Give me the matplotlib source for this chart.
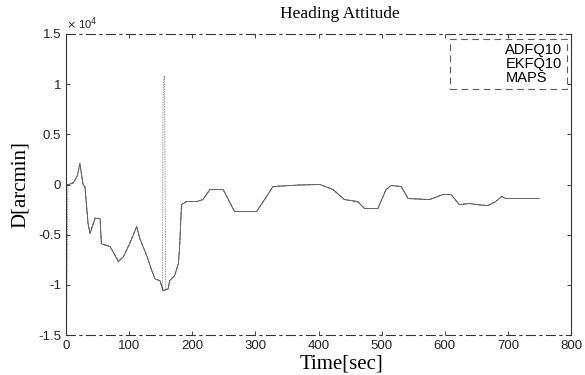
import matplotlib
matplotlib.use("Agg")
import matplotlib.pyplot as plt

# time [sec]
t = [0, 5, 12, 18, 22, 27, 30, 35, 38, 46, 54, 56, 70, 83, 91, 101, 112, 117, 128,
     136, 141, 149, 154, 162, 164, 172, 178, 180, 183, 191, 207, 217, 228, 249, 267,
     302, 328, 370, 402, 423, 441, 462, 473, 494, 507, 515, 531, 542, 576, 597, 610,
     623, 639, 650, 668, 681, 690, 697, 750]

# heading error [arcmin]
adfq = [0, 0, 200, 900, 2100, 0, -200, -3900, -4900, -3400, -3400, -5900, -6200,
        -7700, -7200, -5900, -4200, -5400, -7100, -8600, -9400, -9600, -10600, -10400,
        -9600, -9100, -7900, -6200, -2000, -1700, -1700, -1500, -500, -500, -2700,
        -2700, -200, -50, 0, -500, -1500, -1700, -2400, -2400, -500, -100, -200, -1400,
        -1500, -1000, -1000, -2000, -1900, -2000, -2100, -1700, -1200, -1400, -1400]
ekfq = [0, 0, 150, 850, 2000, 0, -250, -4000, -4800, -3300, -3400, -5900, -6200,
        -7600, -7200, -5800, -4200, -5400, -7100, -8600, -9400, -9600, -10500, -10400,
        -9600, -9100, -7900, -6200, -2000, -1700, -1700, -1500, -500, -500, -2700,
        -2700, -200, -50, 0, -500, -1500, -1700, -2400, -2400, -500, -100, -200, -1400,
        -1500, -1000, -1000, -2000, -1900, -2000, -2100, -1700, -1200, -1400, -1400]
maps_t = [0, 1, 3, 12, 18, 22, 27, 30, 35, 38, 46, 54, 56, 70, 83, 91, 101, 112, 117,
          128, 136, 141, 149, 153, 153.5, 154, 155, 156, 158, 162, 164, 172, 178, 180,
          183, 191, 207, 217, 228, 249, 267, 302, 328, 370, 402, 423, 441, 462, 473,
          494, 507, 515, 531, 542, 576, 597, 610, 623, 639, 650, 668, 681, 690, 697,
          750]
maps = [-14000, -13000, 0, 200, 900, 2100, 0, -200, -3900, -4900, -3400, -3400, -5900,
        -6200, -7700, -7200, -5900, -4200, -5400, -7100, -8600, -9400, -9600, -10600,
        6000, 10300, 10600, 10800, -10500, -10400, -9600, -9100, -7900, -6200, -2000,
        -1700, -1700, -1500, -500, -500, -2700, -2700, -200, -50, 0, -500, -1500,
        -1700, -2400, -2400, -500, -100, -200, -1400, -1500, -1000, -1000, -2000,
        -1900, -2000, -2100, -1700, -1200, -1400, -1400]

xticks = [0, 100, 200, 300, 400, 500, 600, 700, 800]
yticks = [-15000, -10000, -5000, 0, 5000, 10000, 15000]
ytick_labels = ["-1.5", "-1", "-0.5", "0", "0.5", "1", "1.5"]

fig = plt.figure(figsize=(5.85, 3.75), dpi=100)
ax = fig.add_axes([66 / 585, 40 / 375, (571 - 66) / 585, (335 - 34) / 375])

ax.plot(t, adfq, color="#4a4a4a", lw=0.6, ls="-", label="ADFQ10")
ax.plot(t, ekfq, color="#5a5a5a", lw=0.6, ls=(0, (4, 2)), label="EKFQ10")
ax.plot(maps_t, maps, color="#707070", lw=0.6, ls=(0, (1, 1)), label="MAPS")

ax.set_xlim(0, 800)
ax.set_ylim(-15000, 15000)
ax.set_xticks(xticks)
ax.set_xticklabels([str(v) for v in xticks])
ax.set_yticks(yticks)
ax.set_yticklabels(ytick_labels)
ax.tick_params(direction="in", length=3, width=0.6, labelsize=9.5, colors="#222222",
               top=True, right=True)
for lab in ax.get_xticklabels() + ax.get_yticklabels():
    lab.set_family("Liberation Sans")

for side in ["top", "bottom"]:
    ax.spines[side].set_linestyle((0, (8, 4, 2, 4)))
for s in ax.spines.values():
    s.set_linewidth(0.8)
    s.set_color("#333333")

ax.text(0.0, 1.008, r"$\times$ 10$^{4}$", transform=ax.transAxes, fontsize=8,
        family="Liberation Sans", va="bottom", ha="left", color="#222222")
fig.text(340 / 585, 1 - 14 / 375, "Heading Attitude", family="Liberation Serif",
         fontsize=12.5, ha="center", va="center")
ax.set_xlabel("Time[sec]", family="Liberation Serif", fontsize=15, labelpad=0)
ax.xaxis.set_label_coords((342 - 66) / 505, -0.065)
ax.set_ylabel("D[arcmin]", family="Liberation Serif", fontsize=15, labelpad=6)

leg = ax.legend(loc="upper right", bbox_to_anchor=(0.992, 0.985),
                prop={"family": "Liberation Sans", "size": 10.5}, fancybox=False,
                handlelength=2.9, handletextpad=0.6, labelspacing=0.0,
                borderpad=0.3, borderaxespad=0)
for h in leg.get_lines():
    h.set_visible(False)
fr = leg.get_frame()
fr.set_edgecolor("#333333")
fr.set_linestyle((0, (6, 4)))
fr.set_linewidth(0.8)

fig.savefig("out.png", dpi=100)
